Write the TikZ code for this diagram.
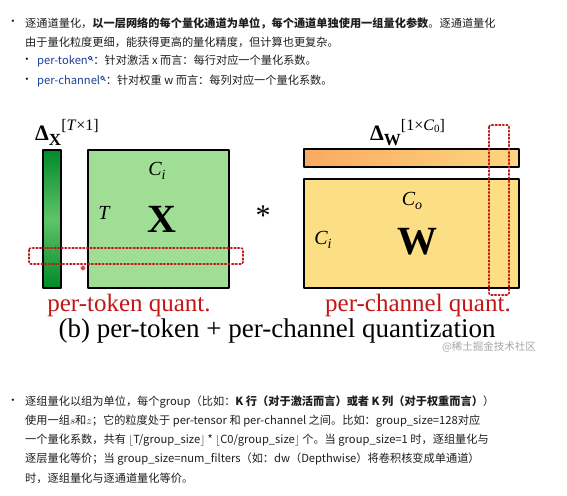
\documentclass[tikz,border=0pt]{standalone}
\usepackage{fontspec}
\setmainfont{Noto Sans CJK SC}
\newfontfamily\figfont{Liberation Serif}
\usetikzlibrary{positioning}

\definecolor{txtgray}{RGB}{30,30,30}
\definecolor{linkblue}{RGB}{28,64,150}
\definecolor{quantred}{RGB}{195,22,22}
\definecolor{xgreen}{RGB}{160,222,150}
\definecolor{dkgreen}{RGB}{0,138,42}
\definecolor{ltgreen}{RGB}{95,196,105}
\definecolor{wyellow}{RGB}{252,222,132}
\definecolor{barorange}{RGB}{250,170,96}
\definecolor{barlight}{RGB}{252,214,128}

\newcommand{\txtsize}{\fontsize{11.2}{13}\selectfont}
\newcommand{\lensicon}{\tikz[baseline={(0pt,-6.5pt)},line width=0.8pt,linkblue]{%
  \draw (0pt,0pt) circle (1.9pt); \draw (1.4pt,-1.4pt)--(3pt,-3pt);}}

\tikzset{
  txtline/.style={anchor=west,inner sep=0pt,text=txtgray,font=\txtsize},
  bulletdot/.style={inner sep=0pt,text=txtgray,font=\txtsize},
  matbox/.style={draw=black,line width=1.5pt},
  quantbox/.style={draw=quantred,dotted,line width=1.6pt,rounded corners=2pt},
  figlabel/.style={inner sep=0pt,font=\figfont\fontsize{20}{20}\selectfont\itshape}
}

\begin{document}
\begin{tikzpicture}[x=1pt,y=-1pt,line cap=round,line join=round]
  \useasboundingbox[fill=white] (0,0) rectangle (567,495);

  % text above the figure
  \node[bulletdot] (b1) at (13,23) {•};
  \node[txtline] (l1) at (25,23) {逐通道量化，\textbf{以一层网络的每个量化通道为单位，每个通道单独使用一组量化参数}。逐通道量化};
  \node[txtline] (l2) at (25,42) {由于量化粒度更细，能获得更高的量化精度，但计算也更复杂。};
  \node[bulletdot] (b2) at (27,61) {•};
  \node[txtline] (l3) at (37,61) {\textcolor{linkblue}{per-token}\lensicon：针对激活 x 而言：每行对应一个量化系数。};
  \node[bulletdot] (b3) at (27,81) {•};
  \node[txtline] (l4) at (37,81) {\textcolor{linkblue}{per-channel}\lensicon：针对权重 w 而言：每列对应一个量化系数。};

  % the figure
  \coordinate (gbarA) at (43,150);
  \coordinate (gbarB) at (61,288);
  \coordinate (xboxA) at (88,150);
  \coordinate (xboxB) at (229,288);
  \coordinate (obarA) at (304,149);
  \coordinate (obarB) at (519,167);
  \coordinate (wboxA) at (304,179);
  \coordinate (wboxB) at (519,288);

  \shade[top color=dkgreen,bottom color=dkgreen,middle color=ltgreen] (gbarA) rectangle (gbarB);
  \draw[matbox] (gbarA) rectangle (gbarB);
  \fill[xgreen] (xboxA) rectangle (xboxB);
  \draw[matbox] (xboxA) rectangle (xboxB);
  \shade[left color=barorange,right color=barlight] (obarA) rectangle (obarB);
  \draw[matbox] (obarA) rectangle (obarB);
  \fill[wyellow] (wboxA) rectangle (wboxB);
  \draw[matbox] (wboxA) rectangle (wboxB);

  \node[anchor=base west,inner sep=0pt,font=\figfont] (dx) at (35,140)
    {\fontsize{22}{22}\selectfont\bfseries Δ\raisebox{-5pt}{\fontsize{17}{17}\selectfont X}\raisebox{10pt}{\fontsize{16}{16}\selectfont\mdseries [\textit{T}×1]}};
  \node[anchor=base west,inner sep=0pt,font=\figfont] (dw) at (370,140)
    {\fontsize{22}{22}\selectfont\bfseries Δ\raisebox{-5pt}{\fontsize{17}{17}\selectfont W}\raisebox{10pt}{\fontsize{16}{16}\selectfont\mdseries [1×\textit{C}\raisebox{-2pt}{\fontsize{11}{11}\selectfont 0}]}};

  \node[figlabel] (ci) at (157,171) {C\raisebox{-4pt}{\fontsize{14}{14}\selectfont i}};
  \node[figlabel] (tlab) at (104,213) {T};
  \node[inner sep=0pt,font=\figfont\fontsize{40}{40}\selectfont\bfseries] (xlab) at (162,219) {X};
  \node[inner sep=0pt,font=\figfont\fontsize{30}{30}\selectfont] (star) at (263,216) {*};
  \node[figlabel] (co) at (412,201) {C\raisebox{-4pt}{\fontsize{14}{14}\selectfont o}};
  \node[figlabel] (ciw) at (323,240) {C\raisebox{-4pt}{\fontsize{14}{14}\selectfont i}};
  \node[inner sep=0pt,font=\figfont\fontsize{40}{40}\selectfont\bfseries] (wlab) at (417,242) {W};

  \draw[quantbox] (29,248) rectangle (243,264);
  \draw[quantbox] (489,125) rectangle (509,295);
  \fill[quantred!25] (83,268) circle (3pt);
  \draw[quantred,line width=0.8pt] (83,268) circle (1.5pt);

  \node[inner sep=0pt,text=quantred,font=\figfont\fontsize{25}{25}\selectfont] (ptok) at (129,305) {per-token quant.};
  \node[inner sep=0pt,text=quantred,font=\figfont\fontsize{25}{25}\selectfont] (pchan) at (418,305) {per-channel quant.};
  \node[inner sep=0pt,font=\figfont\fontsize{27}{27}\selectfont] (caption) at (277,331) {(b) per-token + per-channel quantization};
  \node[inner sep=0pt,text=black!35,font=\fontsize{10.5}{12}\selectfont] (mark) at (489,347) {@稀土掘金技术社区};

  % text below the figure
  \node[bulletdot] (b4) at (13,402) {•};
  \node[txtline] (m1) at (25,402) {逐组量化以组为单位，每个group（比如：\textbf{K 行（对于激活而言）或者 K 列（对于权重而言）}）};
  \node[txtline] (m2) at (25,421) {使用一组$s$和$z$；它的粒度处于 per-tensor 和 per-channel 之间。比如：group\_size=128对应};
  \node[txtline] (m3) at (25,440) {一个量化系数，共有 $\lfloor$T/group\_size$\rfloor$ * $\lfloor$C0/group\_size$\rfloor$ 个。当 group\_size=1 时，逐组量化与};
  \node[txtline] (m4) at (25,459) {逐层量化等价；当 group\_size=num\_filters（如：dw（Depthwise）将卷积核变成单通道）};
  \node[txtline] (m5) at (25,478) {时，逐组量化与逐通道量化等价。};
\end{tikzpicture}
\end{document}
